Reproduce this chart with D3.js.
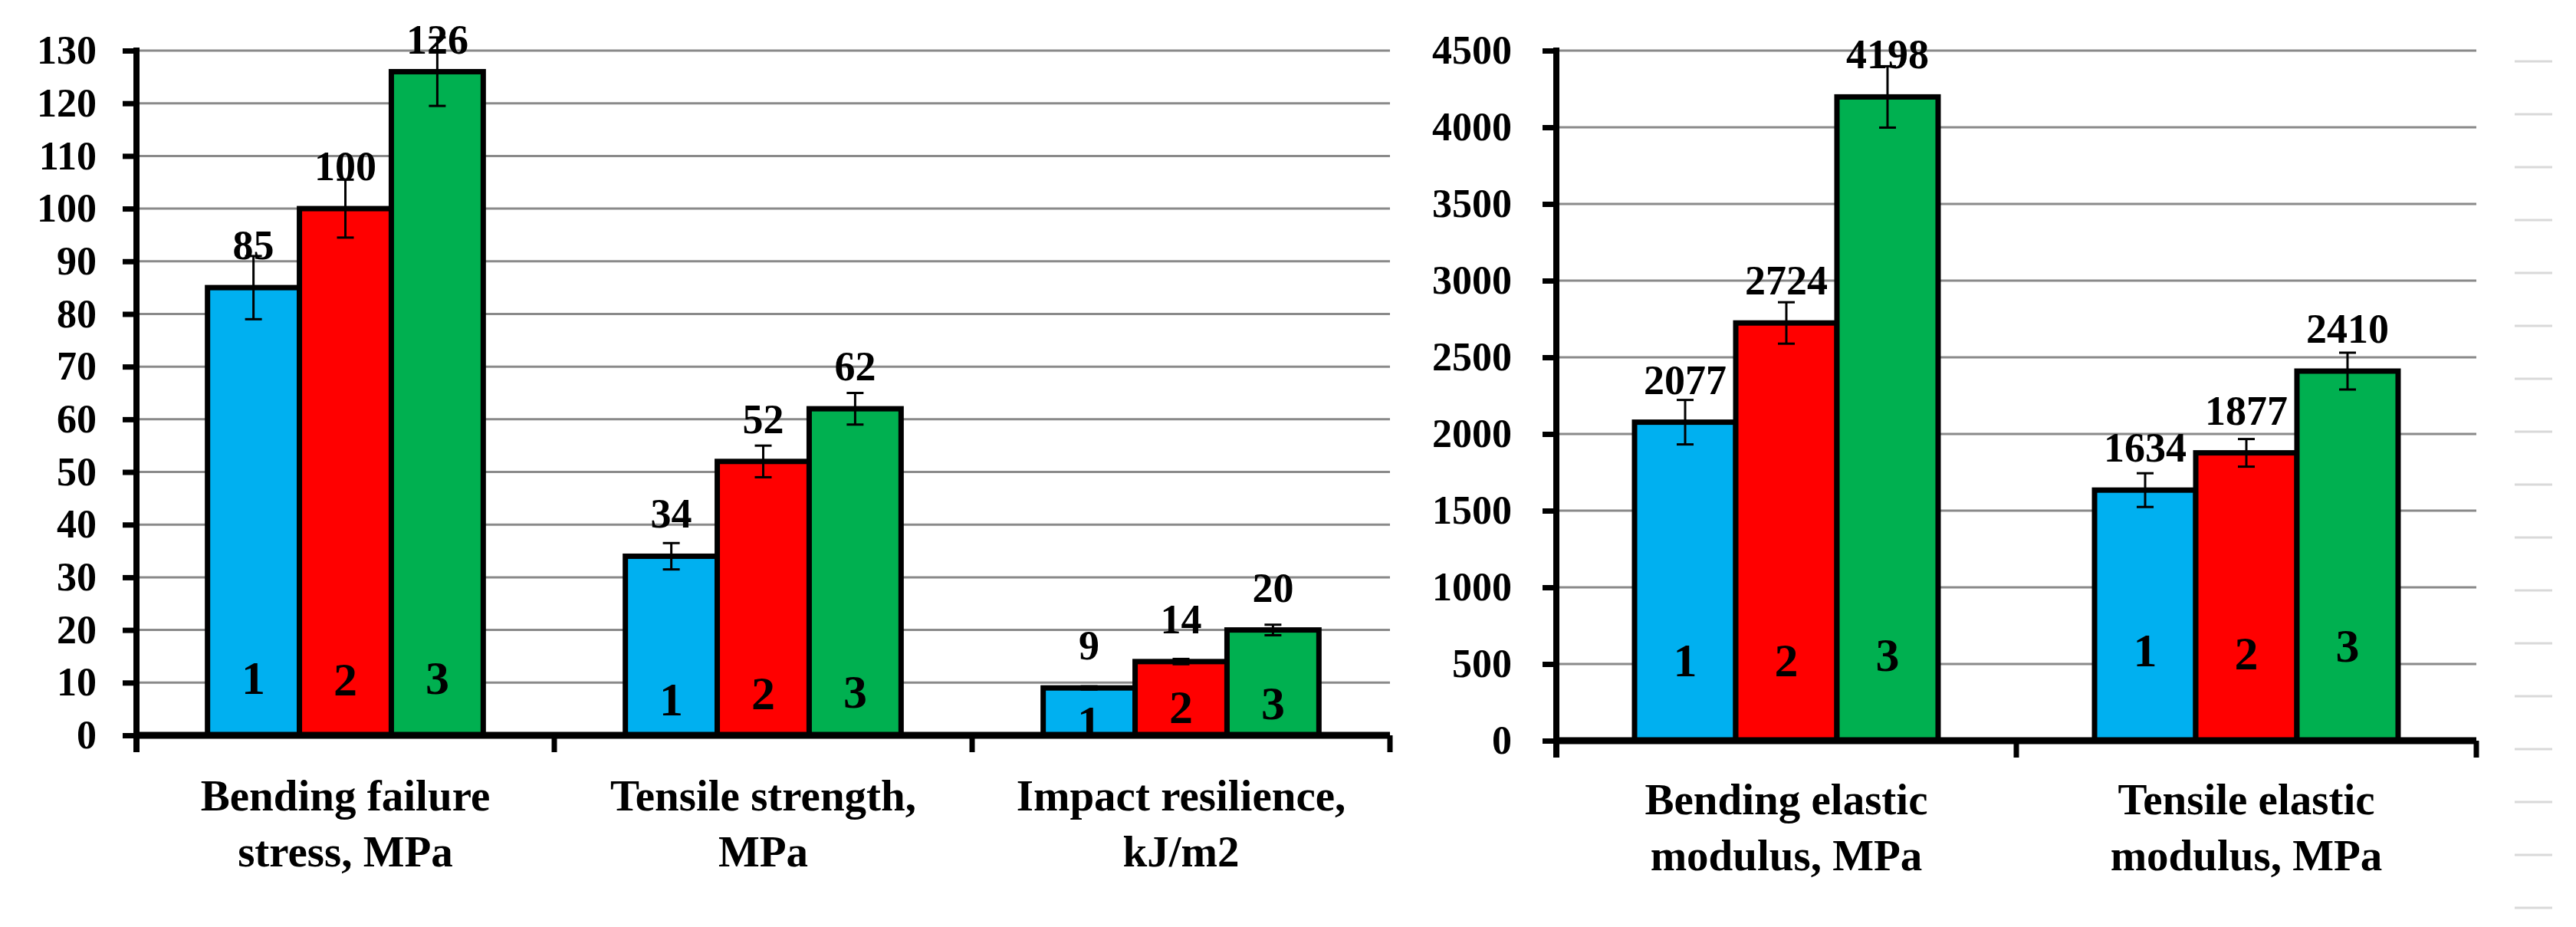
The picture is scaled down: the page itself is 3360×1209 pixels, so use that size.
<!DOCTYPE html>
<html>
<head>
<meta charset="utf-8">
<script src="https://cdn.jsdelivr.net/npm/d3@7"></script>
<style>
  html, body { margin: 0; padding: 0; background: #fff; }
  svg { display: block; }
</style>
</head>
<body>
<svg id="svg" width="3360" height="1209"></svg>
<script>
// ---- data ----
var seriesNames = ["1", "2", "3"];
var seriesColors = ["#00b0f0", "#ff0000", "#00b050"];

var leftCategories = [["Bending failure", "stress, MPa"], ["Tensile strength,", "MPa"], ["Impact resilience,", "kJ/m2"]];
var leftSeries1 = [85, 34, 9];
var leftSeries2 = [100, 52, 14];
var leftSeries3 = [126, 62, 20];
var leftErr1 = [6, 2.5, 0.3];
var leftErr2 = [5.5, 3, 0.5];
var leftErr3 = [6.5, 3, 1];
var leftMax = 130;

var rightCategories = [["Bending elastic", "modulus, MPa"], ["Tensile elastic", "modulus, MPa"]];
var rightSeries1 = [2077, 1634];
var rightSeries2 = [2724, 1877];
var rightSeries3 = [4198, 2410];
var rightErr1 = [145, 110];
var rightErr2 = [135, 90];
var rightErr3 = [200, 120];
var rightMax = 4500;

var FONT = "'Liberation Serif', 'Times New Roman', serif";
var svg = d3.select("#svg");

function drawPanel(cfg) {
    var g = svg.append("g");
    var x = d3.scaleBand().domain(d3.range(cfg.cats.length)).range([cfg.x0, cfg.x1]).padding(0);
    var xs = d3.scaleBand().domain(d3.range(3)).range([0, x.bandwidth()])
        .paddingInner(0).paddingOuter(0.773);
    var y = d3.scaleLinear().domain([0, cfg.max]).range([cfg.y0, cfg.yTop]);

    var rows = [];
    cfg.cats.forEach(function(c, i) {
        cfg.series.forEach(function(s, j) {
            rows.push({ ci: i, si: j, v: s[i], e: cfg.errs[j][i] });
        });
    });

    // gridlines
    g.selectAll(".grid").data(y.ticks(cfg.nTicks).filter(function(d) { return d > 0; }))
        .enter().append("line")
        .attr("x1", cfg.x0).attr("x2", cfg.x1)
        .attr("y1", function(d) { return y(d); }).attr("y2", function(d) { return y(d); })
        .attr("stroke", "#8a8a8a").attr("stroke-width", 3);

    // bars
    g.selectAll(".bar").data(rows).enter().append("rect")
        .attr("x", function(d) { return x(d.ci) + xs(d.si); })
        .attr("width", xs.bandwidth())
        .attr("y", function(d) { return y(d.v); })
        .attr("height", function(d) { return y(0) - y(d.v); })
        .attr("fill", function(d) { return seriesColors[d.si]; })
        .attr("stroke", "#000").attr("stroke-width", 7);

    // numbers inside bars
    g.selectAll(".num").data(rows).enter().append("text")
        .attr("x", function(d) { return x(d.ci) + xs(d.si) + xs.bandwidth() / 2; })
        .attr("y", function(d) { return y(0) - cfg.numOffset[d.ci][d.si]; })
        .attr("text-anchor", "middle")
        .style("font-family", FONT).style("font-weight", "bold").style("font-size", "62px")
        .text(function(d) { return seriesNames[d.si]; });

    // error bars
    var eb = g.selectAll(".err").data(rows).enter().append("g");
    eb.append("line")
        .attr("x1", function(d) { return x(d.ci) + xs(d.si) + xs.bandwidth() / 2; })
        .attr("x2", function(d) { return x(d.ci) + xs(d.si) + xs.bandwidth() / 2; })
        .attr("y1", function(d) { return y(d.v - d.e); })
        .attr("y2", function(d) { return y(d.v + d.e); })
        .attr("stroke", "#000").attr("stroke-width", 3);
    [-1, 1].forEach(function(sgn) {
        eb.append("line")
            .attr("x1", function(d) { return x(d.ci) + xs(d.si) + xs.bandwidth() / 2 - 11; })
            .attr("x2", function(d) { return x(d.ci) + xs(d.si) + xs.bandwidth() / 2 + 11; })
            .attr("y1", function(d) { return y(d.v + sgn * d.e); })
            .attr("y2", function(d) { return y(d.v + sgn * d.e); })
            .attr("stroke", "#000").attr("stroke-width", 3);
    });

    // y axis
    var yAxis = d3.axisLeft(y).ticks(cfg.nTicks).tickFormat(d3.format("d"))
        .tickSize(18).tickSizeOuter(0).tickPadding(cfg.tickPad);
    var ya = g.append("g").attr("transform", "translate(" + cfg.x0 + ",0)").call(yAxis);
    ya.select(".domain").remove();
    ya.selectAll(".tick line").attr("stroke", "#000").attr("stroke-width", 7);
    ya.selectAll(".tick text")
        .style("font-family", FONT).style("font-weight", "bold").style("font-size", "52px")
        .attr("fill", "#000");
    g.append("line")
        .attr("x1", cfg.x0).attr("x2", cfg.x0)
        .attr("y1", cfg.yTop - 4).attr("y2", cfg.y0 + 22)
        .attr("stroke", "#000").attr("stroke-width", 8);

    // x axis line and category separators
    g.append("line")
        .attr("x1", cfg.x0).attr("x2", cfg.x1)
        .attr("y1", y(0)).attr("y2", y(0))
        .attr("stroke", "#000").attr("stroke-width", 9);
    var seps = d3.range(1, cfg.cats.length + 1).map(function(i) {
        return i < cfg.cats.length ? x(i) : cfg.x1;
    });
    g.selectAll(".sep").data(seps).enter().append("line")
        .attr("x1", function(d) { return d; }).attr("x2", function(d) { return d; })
        .attr("y1", y(0)).attr("y2", y(0) + 22)
        .attr("stroke", "#000").attr("stroke-width", 7);

    // value labels
    g.selectAll(".val").data(rows).enter().append("text")
        .attr("x", function(d) { return x(d.ci) + xs(d.si) + xs.bandwidth() / 2; })
        .attr("y", function(d) { return Math.max(y(d.v) - 37, cfg.yTop + 4); })
        .attr("text-anchor", "middle")
        .style("font-family", FONT).style("font-weight", "bold").style("font-size", "54px")
        .text(function(d) { return d.v; });

    // category labels
    var cl = g.selectAll(".cat").data(cfg.cats).enter().append("text")
        .attr("text-anchor", "middle")
        .style("font-family", FONT).style("font-weight", "bold").style("font-size", "57px");
    cl.each(function(d, i) {
        var t = d3.select(this);
        d.forEach(function(line, k) {
            t.append("tspan")
                .attr("x", x(i) + x.bandwidth() / 2)
                .attr("y", cfg.labelY + k * 73)
                .text(line);
        });
    });
}

drawPanel({
    cats: leftCategories,
    series: [leftSeries1, leftSeries2, leftSeries3],
    errs: [leftErr1, leftErr2, leftErr3],
    max: leftMax, nTicks: 13,
    x0: 178, x1: 1813, y0: 959, yTop: 66,
    tickPad: 34, labelY: 1057,
    numOffset: [[54, 52, 54], [26, 34, 36], [-4, 16, 21]]
});

drawPanel({
    cats: rightCategories,
    series: [rightSeries1, rightSeries2, rightSeries3],
    errs: [rightErr1, rightErr2, rightErr3],
    max: rightMax, nTicks: 9,
    x0: 2030, x1: 3230, y0: 966, yTop: 66,
    tickPad: 40, labelY: 1062,
    numOffset: [[84, 84, 91], [97, 93, 103]]
});

// faint gridline stubs at the right edge (cut-off neighbouring panel)
var ghost = d3.scaleLinear().domain([0, 16]).range([1184, 80]);
svg.selectAll(".ghost").data(ghost.ticks(16)).enter().append("line")
    .attr("x1", 3280).attr("x2", 3329)
    .attr("y1", function(d) { return ghost(d); }).attr("y2", function(d) { return ghost(d); })
    .attr("stroke", "#d9d9d9").attr("stroke-width", 3);
</script>
</body>
</html>
